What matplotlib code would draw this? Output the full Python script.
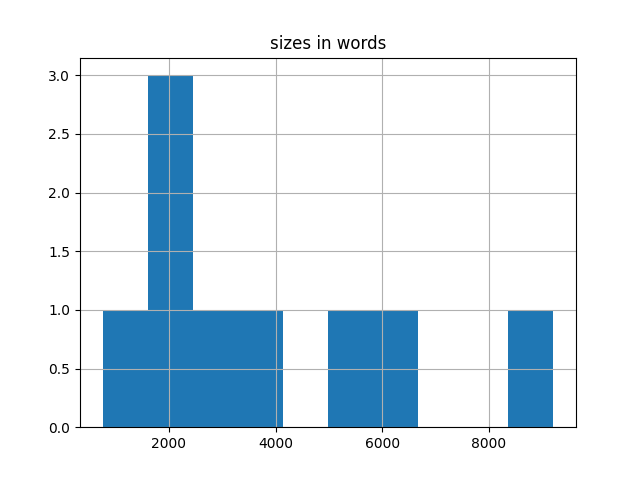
import matplotlib
matplotlib.use("Agg")
import matplotlib.pyplot as plt
import pandas as pd

# word counts per document
sizes_in_words = [755, 1800, 2100, 2300, 2900, 3700, 5400, 6200, 9208]

df = pd.DataFrame({"sizes in words": sizes_in_words})

fig, ax = plt.subplots(figsize=(6.4, 4.8), dpi=100)
df.hist(column="sizes in words", bins=10, ax=ax)
fig.savefig("out.png")
